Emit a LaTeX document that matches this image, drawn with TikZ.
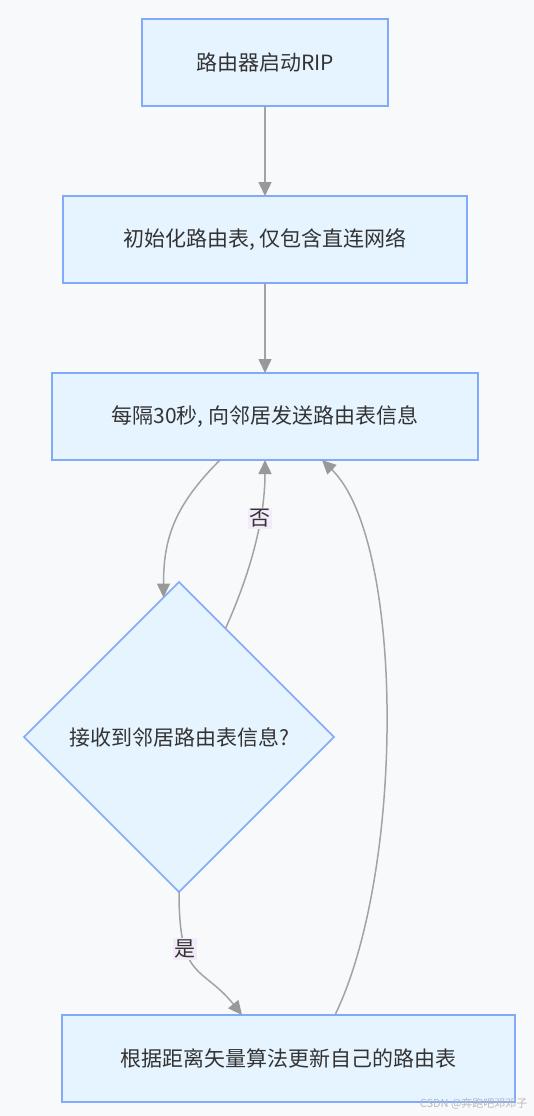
\documentclass[tikz,border=0pt]{standalone}
\usepackage{fontspec}
\setmainfont{Noto Sans CJK SC}
\usetikzlibrary{calc}
\usetikzlibrary{positioning, arrows.meta, shapes.geometric}

\definecolor{bgcol}{HTML}{F8F9FB}
\definecolor{boxfill}{HTML}{E6F4FF}
\definecolor{boxline}{HTML}{82AAFA}
\definecolor{edgecol}{HTML}{A3A3A3}
\definecolor{tipcol}{HTML}{999999}
\definecolor{labfill}{HTML}{F3EBFA}
\definecolor{textcol}{HTML}{333333}

\tikzset{
    procbox/.style={draw=boxline, line width=1.5pt, outer sep=0pt, fill=boxfill, minimum height=87pt, text=textcol, font=\fontsize{21pt}{25pt}\selectfont},
    decide/.style={diamond, aspect=1, draw=boxline, line width=1.5pt, outer sep=0pt, fill=boxfill, minimum width=310pt, minimum height=310pt, inner sep=0pt, text=textcol, font=\fontsize{21pt}{25pt}\selectfont},
    flow/.style={draw=edgecol, line width=1.5pt, -{Triangle[length=14pt, width=13pt, color=tipcol]}},
    edgelabel/.style={fill=labfill, text=textcol, inner sep=1.5pt, font=\fontsize{21pt}{25pt}\selectfont}
}

\begin{document}
\begin{tikzpicture}
    \path[use as bounding box, fill=bgcol] (0,0) rectangle (534pt,-1116pt);
    \node (start) [procbox, minimum width=246pt] at (265pt,-62.5pt) {路由器启动RIP};
    \node (init) [procbox, minimum width=404pt, below=90pt of start] {初始化路由表, 仅包含直连网络};
    \node (send) [procbox, minimum width=426pt, below=90pt of init] {每隔30秒, 向邻居发送路由表信息};
    \node (recv) [decide, below=122pt of send, xshift=-86pt] {接收到邻居路由表信息?};
    \node (update) [procbox, minimum width=453pt, below=123pt of recv, xshift=109.5pt] {根据距离矢量算法更新自己的路由表};
    \draw [flow] (start) -- (init);
    \draw [flow] (init) -- (send);
    \draw [flow] ([xshift=-45pt]send.south) .. controls +(-45pt,-45pt) and +(0pt,60pt) .. ($(recv.north)!0.1!(recv.west)$);
    \draw [flow] ($(recv.north)!0.3!(recv.east)$) .. controls +(30pt,67pt) and +(0pt,-50pt) .. node[edgelabel, pos=0.62] {否} (send.south);
    \draw [flow] (recv.south) .. controls +(0pt,-90pt) and +(-40pt,50pt) .. node[edgelabel, pos=0.3] {是} ([xshift=-46.5pt]update.north);
    \draw [flow] ([xshift=46.5pt]update.north) .. controls +(70pt,144pt) and +(83pt,-81pt) .. ([xshift=57pt]send.south);
    \node (mark) [anchor=east, text=gray!55, font=\fontsize{11pt}{13pt}\selectfont] at (531pt,-1104pt) {CSDN @奔跑吧邓邓子};
\end{tikzpicture}
\end{document}
